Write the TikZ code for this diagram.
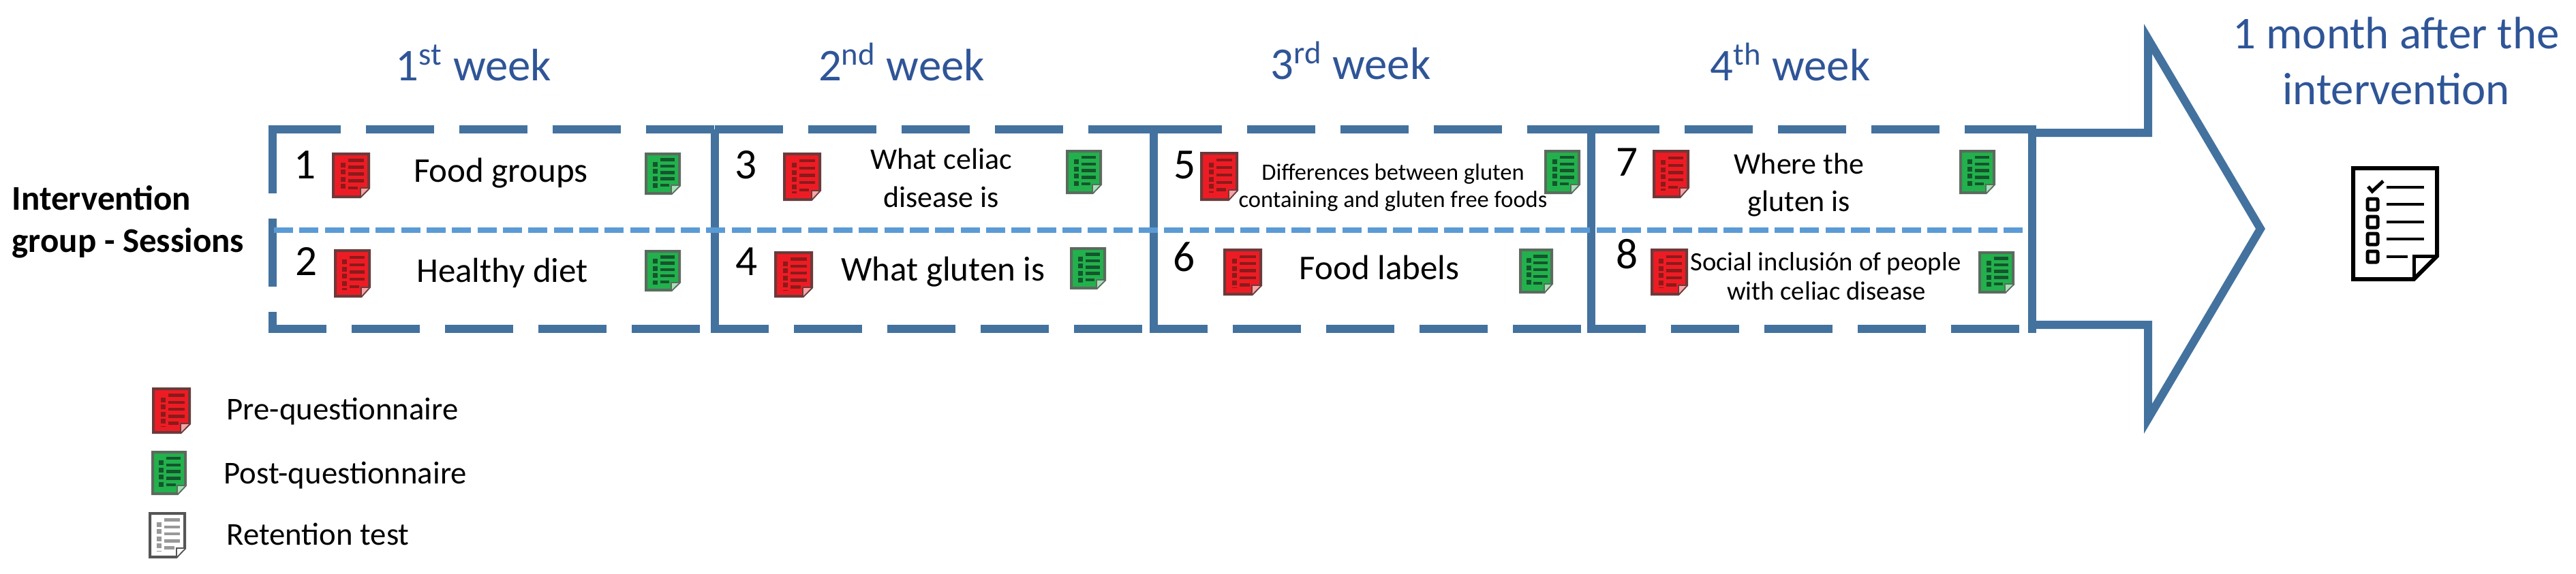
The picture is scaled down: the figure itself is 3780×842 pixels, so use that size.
\documentclass[tikz,border=0pt]{standalone}
\usepackage{fontspec}
\setmainfont{Carlito}
\definecolor{framecol}{HTML}{44729F}
\definecolor{splitcol}{HTML}{5B9BD5}
\definecolor{titlecol}{HTML}{2F5597}
\definecolor{redfill}{HTML}{ED1C24}
\definecolor{rededge}{HTML}{6B3A3A}
\definecolor{redink}{HTML}{8B1A1A}
\definecolor{greenfill}{HTML}{22B14C}
\definecolor{greenedge}{HTML}{5A6B5E}
\definecolor{greenink}{HTML}{14552C}
\definecolor{whiteedge}{HTML}{555555}
\definecolor{whiteink}{HTML}{999999}
\tikzset{
	weekdash/.style  = {draw=framecol, line width=0.12cm, dash pattern=on 1cm off 0.37cm},
	solidline/.style = {draw=framecol, line width=0.12cm},
	splitline/.style = {draw=splitcol, line width=0.08cm, dash pattern=on 0.28cm off 0.093cm},
	week/.style      = {anchor=base, inner sep=0pt, text=titlecol, font=\fontsize{19}{19}\selectfont},
	number/.style    = {anchor=base, inner sep=0pt, font=\fontsize{18}{18}\selectfont},
	session/.style   = {anchor=base, inner sep=0pt, font=\fontsize{14.5}{14.5}\selectfont},
	smalltxt/.style  = {anchor=base, inner sep=0pt, font=\fontsize{9.8}{9.8}\selectfont},
	socialtxt/.style = {anchor=base, inner sep=0pt, font=\fontsize{11}{11}\selectfont},
	midtxt/.style    = {anchor=base, inner sep=0pt, font=\fontsize{12.5}{12.5}\selectfont},
	legend/.style    = {anchor=base west, inner sep=0pt, font=\fontsize{13.3}{13.3}\selectfont},
	sidetxt/.style   = {anchor=base west, inner sep=0pt, font=\bfseries\fontsize{14.5}{14.5}\selectfont},
	pics/formicon/.style n args={3}{code={
		\filldraw[draw=#2, fill=#1, line width=0.04cm] (0,0) -- (1,0) -- (1,.8) -- (.76,1) -- (0,1) -- cycle;
		\draw[draw=#2, fill=white!60!#1, line width=0.02cm] (.76,1) -- (.76,.8) -- (1,.8);
		\foreach \ly in {.15,.31,.47,.63}
			\draw[#3, line width=0.045cm] (.42,\ly) -- (.86,\ly);
		\draw[#3, line width=0.045cm] (.42,.79) -- (.7,.79);
		\draw[#3, line width=0.07cm, densely dotted] (.27,.2) -- (.27,.86);
	}}
}
\begin{document}
\begin{tikzpicture}[x=0.01cm, y=-0.01cm]
	\useasboundingbox (0,0) rectangle (3780,842);

	% frames of the four weeks
	\foreach \from/\to in {400/1049, 1049/1693, 1693/2335, 2335/2982}
		\draw[weekdash] (\from,190) -- (\to,190);
	\foreach \from/\to in {394/1049, 1043/1693, 1687/2335, 2330/2976}
		\draw[weekdash, dash phase=0.15cm] (\from,483) -- (\to,483);
	\draw[weekdash] (400,184) -- (400,489);
	\foreach \x in {1049, 1693, 2335}
		\draw[solidline] (\x,190) -- (\x,489);
	\draw[splitline] (402,338) -- (2982,338);

	% big arrow
	\draw[solidline] (2982,184) -- (2982,489);
	\draw[solidline, miter limit=10] (2982,195) -- (3152,195) -- (3152,57) -- (3317,336) -- (3152,615) -- (3152,477) -- (2982,477);

	% titles
	\foreach \name/\x/\y/\nth/\sfx in {wa/695/118/1/st, wb/1323/118/2/nd, wc/1982/116/3/rd, wd/2627/118/4/th}
		\node[week] (\name) at (\x,\y) {\nth\textsuperscript{\sfx} week};
	\node[week] (after) at (3516,71) {1 month after the};
	\node[week] (interv) at (3516,153) {intervention};
	\node[sidetxt] (side1) at (17,308) {Intervention};
	\node[sidetxt] (side2) at (17,370) {group - Sessions};

	% session numbers
	\foreach \n/\x/\y in {1/448/262, 2/450/404, 3/1095/262, 4/1096/404, 5/1739/262, 6/1738/398, 7/2388/258, 8/2388/394}
		\node[number] (n\n) at (\x,\y) {\n};

	% session texts
	\foreach \name/\x/\y/\txt in {foodgroups/735/267/Food groups, healthy/737/414/Healthy diet, gluten/1384/412/What gluten is, labels/2024/410/Food labels}
		\node[session] (\name) at (\x,\y) {\txt};
	\foreach \name/\x/\y/\txt in {celiaca/1381/248/What celiac, celiacb/1381/304/disease is, wherea/2640/255/Where the, whereb/2640/310/gluten is}
		\node[midtxt] (\name) at (\x,\y) {\txt};
	\foreach \name/\x/\y/\txt in {diffa/2044/264/Differences between gluten, diffb/2044/304/containing and gluten free foods}
		\node[smalltxt] (\name) at (\x,\y) {\txt};
	\foreach \name/\x/\y/\txt in {sociala/2679/397/Social inclusión of people, socialb/2680/440/with celiac disease}
		\node[socialtxt] (\name) at (\x,\y) {\txt};

	% small forms
	\foreach \x/\y/\w/\h in {489/226/52/63, 492/368/50/67, 1151/226/52/67, 1138/371/53/64, 1763/225/52/68, 1797/367/53/65, 2427/222/50/67, 2424/367/51/65, 225/571/53/64}
		\pic[xscale=\w, yscale=\h] at (\x,\y) {formicon={redfill}{rededge}{redink}};
	\foreach \x/\y/\w/\h in {948/226/49/58, 948/369/49/57, 1566/222/49/61, 1572/365/49/58, 2268/222/49/61, 2231/367/46/62, 2877/222/49/61, 2905/371/49/58, 224/664/48/61}
		\pic[xscale=\w, yscale=\h] at (\x,\y) {formicon={greenfill}{greenedge}{greenink}};
	\pic[xscale=51, yscale=64] at (220,754) {formicon={white}{whiteedge}{whiteink}};

	% legend
	\node[legend] (pre) at (332,616) {Pre-questionnaire};
	\node[legend] (post) at (328,710) {Post-questionnaire};
	\node[legend] (retention) at (332,800) {Retention test};

	% retention form
	\draw[line width=0.06cm, line join=miter] (3453,247) -- (3576,247) -- (3576,376) -- (3542,410) -- (3453,410) -- cycle;
	\draw[line width=0.05cm] (3542,410) -- (3542,376) -- (3576,376);
	\draw[line width=0.05cm] (3475,274) -- (3481,281) -- (3497,266);
	\foreach \y/\to in {275/3557, 300/3557, 326/3557, 351/3557, 377/3533}
		\draw[line width=0.045cm] (3502,\y) -- (\to,\y);
	\foreach \y in {300, 326, 351, 377}
		\draw[line width=0.05cm, rounded corners=0.02cm] (3474,\y-8) rectangle (3489,\y+8);
\end{tikzpicture}
\end{document}
